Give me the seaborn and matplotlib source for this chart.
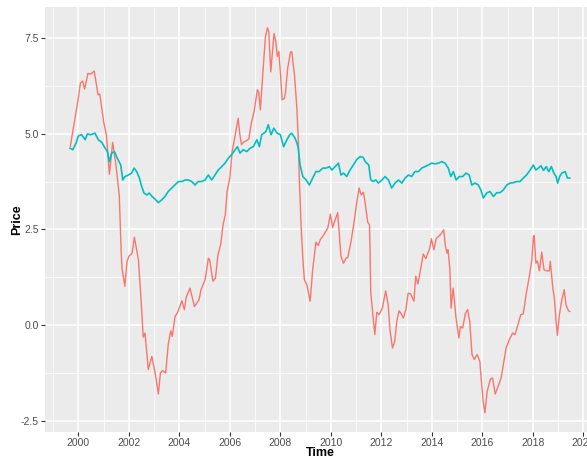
import numpy as np
import pandas as pd
import seaborn as sns
import matplotlib
matplotlib.use("Agg")
import matplotlib.pyplot as plt
from matplotlib.ticker import MultipleLocator

# red series (decimal years)
red_t = [1999.68, 1999.99, 2000.08, 2000.17, 2000.25, 2000.38, 2000.49, 2000.63, 2000.78, 2000.85,
         2001.00, 2001.11, 2001.23, 2001.36, 2001.49, 2001.62, 2001.70, 2001.73, 2001.84, 2001.93,
         2002.00, 2002.13, 2002.22, 2002.38, 2002.48, 2002.57, 2002.64, 2002.77, 2002.91, 2003.04,
         2003.17, 2003.25, 2003.33, 2003.46, 2003.56, 2003.66, 2003.72, 2003.83, 2003.94, 2004.10,
         2004.20, 2004.27, 2004.42, 2004.60, 2004.78, 2004.86, 2005.02, 2005.15, 2005.20, 2005.33,
         2005.43, 2005.53, 2005.64, 2005.73, 2005.82, 2005.89, 2006.00, 2006.09, 2006.19, 2006.33,
         2006.39, 2006.46, 2006.55, 2006.65, 2006.75, 2006.85, 2006.96, 2007.09, 2007.14, 2007.21,
         2007.31, 2007.41, 2007.49, 2007.54, 2007.62, 2007.75, 2007.82, 2007.88, 2007.94, 2008.02,
         2008.07, 2008.12, 2008.16, 2008.20, 2008.29, 2008.40, 2008.45, 2008.56, 2008.65, 2008.71,
         2008.75, 2008.82, 2008.89, 2008.95, 2009.05, 2009.18, 2009.28, 2009.41, 2009.50, 2009.58,
         2009.72, 2009.88, 2009.98, 2010.07, 2010.17, 2010.27, 2010.40, 2010.50, 2010.60, 2010.67,
         2010.80, 2010.91, 2011.03, 2011.12, 2011.20, 2011.29, 2011.35, 2011.46, 2011.53, 2011.55,
         2011.58, 2011.64, 2011.74, 2011.82, 2011.91, 2012.04, 2012.17, 2012.27, 2012.34, 2012.44,
         2012.53, 2012.61, 2012.70, 2012.77, 2012.87, 2012.97, 2013.06, 2013.16, 2013.29, 2013.36,
         2013.45, 2013.56, 2013.66, 2013.76, 2013.85, 2013.92, 2013.98, 2014.08, 2014.17, 2014.27,
         2014.36, 2014.47, 2014.53, 2014.60, 2014.64, 2014.71, 2014.76, 2014.80, 2014.84, 2014.89,
         2014.95, 2015.07, 2015.13, 2015.22, 2015.33, 2015.42, 2015.50, 2015.59, 2015.68, 2015.79,
         2015.90, 2015.95, 2016.03, 2016.10, 2016.19, 2016.32, 2016.40, 2016.51, 2016.65, 2016.75,
         2016.83, 2016.94, 2017.07, 2017.20, 2017.29, 2017.39, 2017.52, 2017.62, 2017.73, 2017.86,
         2017.96, 2018.02, 2018.05, 2018.12, 2018.18, 2018.26, 2018.35, 2018.44, 2018.55, 2018.65,
         2018.69, 2018.79, 2018.85, 2018.92, 2018.97, 2019.05, 2019.15, 2019.24, 2019.31, 2019.41,
         2019.47]
red_v = [4.66, 5.88, 6.31, 6.37, 6.16, 6.57, 6.55, 6.63, 6.01, 6.03,
         5.31, 4.97, 3.94, 4.77, 4.18, 3.40, 1.88, 1.49, 1.02, 1.67,
         1.80, 1.88, 2.30, 1.71, 0.71, -0.31, -0.20, -1.15, -0.81, -1.24,
         -1.79, -1.24, -1.18, -1.24, -0.50, -0.14, -0.29, 0.23, 0.35, 0.64,
         0.41, 0.73, 0.97, 0.49, 0.67, 0.93, 1.19, 1.75, 1.71, 1.15,
         1.23, 1.84, 2.12, 2.62, 2.88, 3.49, 3.84, 4.53, 4.88, 5.40,
         5.01, 4.71, 4.78, 4.81, 4.86, 5.27, 5.57, 6.14, 6.09, 5.62,
         6.61, 7.53, 7.76, 7.66, 6.61, 7.61, 7.40, 7.01, 7.14, 6.40,
         5.88, 5.90, 5.92, 6.05, 6.70, 7.12, 7.14, 6.53, 5.70, 4.88,
         3.84, 2.62, 1.75, 1.19, 1.06, 0.63, 1.45, 2.17, 2.08, 2.23,
         2.36, 2.54, 2.90, 2.55, 2.75, 2.94, 1.80, 1.62, 1.75, 1.77,
         2.19, 2.65, 3.23, 3.58, 3.40, 3.47, 3.23, 2.69, 2.62, 2.02,
         0.84, 0.45, -0.24, 0.34, 0.28, 0.45, 0.90, 0.54, -0.11, -0.59,
         -0.42, 0.10, 0.38, 0.32, 0.19, 0.41, 0.84, 0.82, 0.63, 1.28,
         1.08, 1.49, 1.86, 1.74, 1.90, 2.02, 2.26, 1.97, 2.26, 2.32,
         2.38, 2.49, 2.10, 1.88, 1.97, 1.49, 0.45, 0.71, 0.97, 0.67,
         0.23, -0.33, -0.03, -0.07, 0.32, 0.41, 0.10, -0.76, -0.89, -0.76,
         -0.94, -1.37, -1.98, -2.28, -1.72, -1.40, -1.37, -1.79, -1.54, -1.35,
         -1.02, -0.59, -0.37, -0.20, -0.24, -0.03, 0.28, 0.30, 0.80, 1.28,
         1.71, 2.32, 2.34, 1.62, 1.68, 1.42, 1.91, 1.45, 1.42, 1.42,
         1.67, 0.97, 0.71, 0.10, -0.26, 0.28, 0.67, 0.93, 0.54, 0.38,
         0.36]

# teal series
teal_t = [1999.67, 1999.78, 1999.91, 2000.00, 2000.13, 2000.27, 2000.36, 2000.49, 2000.66, 2000.79,
          2000.93, 2001.06, 2001.15, 2001.23, 2001.32, 2001.43, 2001.54, 2001.68, 2001.76, 2001.85,
          2001.98, 2002.11, 2002.21, 2002.31, 2002.42, 2002.51, 2002.60, 2002.71, 2002.81, 2002.92,
          2003.04, 2003.17, 2003.30, 2003.43, 2003.56, 2003.70, 2003.83, 2003.96, 2004.10, 2004.23,
          2004.36, 2004.49, 2004.62, 2004.75, 2004.89, 2005.02, 2005.15, 2005.28, 2005.41, 2005.54,
          2005.68, 2005.81, 2005.94, 2006.07, 2006.21, 2006.30, 2006.40, 2006.53, 2006.67, 2006.80,
          2006.93, 2007.07, 2007.17, 2007.26, 2007.43, 2007.52, 2007.63, 2007.74, 2007.87, 2008.00,
          2008.13, 2008.26, 2008.37, 2008.45, 2008.58, 2008.66, 2008.71, 2008.78, 2008.89, 2009.02,
          2009.15, 2009.28, 2009.41, 2009.54, 2009.68, 2009.81, 2009.94, 2010.04, 2010.17, 2010.30,
          2010.40, 2010.50, 2010.63, 2010.76, 2010.89, 2011.02, 2011.16, 2011.28, 2011.36, 2011.50,
          2011.58, 2011.68, 2011.78, 2011.88, 2012.02, 2012.15, 2012.28, 2012.41, 2012.54, 2012.68,
          2012.81, 2012.94, 2013.07, 2013.20, 2013.33, 2013.47, 2013.60, 2013.73, 2013.86, 2013.99,
          2014.12, 2014.26, 2014.39, 2014.52, 2014.65, 2014.75, 2014.85, 2014.96, 2015.09, 2015.22,
          2015.35, 2015.48, 2015.58, 2015.71, 2015.84, 2015.94, 2016.04, 2016.17, 2016.30, 2016.44,
          2016.57, 2016.70, 2016.83, 2016.97, 2017.10, 2017.23, 2017.36, 2017.49, 2017.62, 2017.75,
          2017.89, 2018.02, 2018.12, 2018.22, 2018.32, 2018.42, 2018.53, 2018.63, 2018.73, 2018.83,
          2018.92, 2018.98, 2019.06, 2019.15, 2019.28, 2019.37, 2019.47]
teal_v = [4.62, 4.58, 4.75, 4.94, 4.97, 4.84, 4.99, 4.97, 5.01, 4.84,
          4.77, 4.62, 4.53, 4.27, 4.49, 4.53, 4.36, 4.18, 3.79, 3.88,
          3.92, 3.97, 4.10, 4.01, 3.84, 3.62, 3.45, 3.40, 3.45, 3.36,
          3.29, 3.20, 3.27, 3.36, 3.49, 3.58, 3.66, 3.75, 3.75, 3.79,
          3.79, 3.75, 3.66, 3.75, 3.75, 3.79, 3.92, 3.79, 3.92, 4.05,
          4.14, 4.23, 4.36, 4.45, 4.58, 4.66, 4.49, 4.58, 4.53, 4.62,
          4.66, 4.84, 4.66, 4.97, 5.05, 5.23, 4.97, 5.14, 5.01, 4.97,
          4.66, 4.84, 4.97, 5.01, 4.88, 4.75, 4.62, 4.18, 3.88, 3.79,
          3.66, 3.84, 4.01, 4.01, 4.10, 4.10, 4.14, 4.05, 4.14, 4.23,
          3.92, 3.97, 3.88, 4.05, 4.18, 4.32, 4.40, 4.38, 4.27, 4.18,
          3.79, 3.75, 3.79, 3.71, 3.79, 3.88, 3.79, 3.58, 3.71, 3.79,
          3.71, 3.84, 3.92, 3.88, 4.01, 4.01, 4.10, 4.14, 4.18, 4.23,
          4.21, 4.23, 4.27, 4.23, 4.10, 3.88, 4.01, 3.79, 3.88, 3.88,
          3.97, 3.92, 3.66, 3.71, 3.66, 3.53, 3.32, 3.45, 3.49, 3.36,
          3.46, 3.46, 3.53, 3.66, 3.71, 3.72, 3.75, 3.75, 3.84, 3.92,
          4.05, 4.18, 4.05, 4.10, 4.16, 4.04, 4.14, 4.01, 4.14, 3.97,
          3.88, 3.71, 3.88, 3.97, 4.01, 3.84, 3.84]

df = pd.concat([
    pd.DataFrame({"Time": red_t, "Price": red_v, "series": "a"}),
    pd.DataFrame({"Time": teal_t, "Price": teal_v, "series": "b"}),
])

sns.set_theme(style="darkgrid", rc={
    "axes.facecolor": "#EBEBEB",
    "grid.color": "white",
    "axes.edgecolor": "#EBEBEB",
})
plt.rcParams["font.family"] = ["Liberation Sans", "DejaVu Sans"]

fig = plt.figure(figsize=(5.87, 4.59), dpi=100)
# panel runs a little past the right edge, like the original crop
ax = fig.add_axes([45 / 587, 27 / 459, 550 / 587, 425 / 459])

sns.lineplot(data=df, x="Time", y="Price", hue="series",
             palette={"a": "#F8766D", "b": "#00BFC4"},
             estimator=None, sort=False, linewidth=1.0, legend=False, ax=ax)
ax.lines[1].set_linewidth(1.2)

ax.set_xlim(1998.68, 2020.46)
ax.set_ylim(-2.78, 8.30)
ax.xaxis.set_major_locator(MultipleLocator(2))
ax.xaxis.set_minor_locator(MultipleLocator(1))
ax.yaxis.set_major_locator(MultipleLocator(2.5))
ax.yaxis.set_minor_locator(MultipleLocator(1.25))
ax.xaxis.set_major_formatter(plt.FuncFormatter(lambda v, p: f"{int(v)}"))
ax.yaxis.set_major_formatter(plt.FuncFormatter(lambda v, p: f"{v:.1f}"))
ax.grid(which="major", color="white", linewidth=1.1)
ax.grid(which="minor", color="white", linewidth=0.5)
ax.tick_params(which="major", length=3, width=0.8, color="#333333",
               labelcolor="#4D4D4D", labelsize=7.5, pad=1.5, bottom=True, left=True)
ax.tick_params(which="minor", length=0)
for s in ax.spines.values():
    s.set_visible(False)

ax.set_xlabel("")
ax.set_ylabel("")
fig.text(17 / 587, 1 - 219.5 / 459, "Price", rotation=90, ha="center", va="center",
         fontsize=9, fontweight="bold", color="black")
fig.text(320 / 587, 1 - 453 / 459, "Time", ha="center", va="center",
         fontsize=9, fontweight="bold", color="black")

fig.savefig("out.png", dpi=100)
